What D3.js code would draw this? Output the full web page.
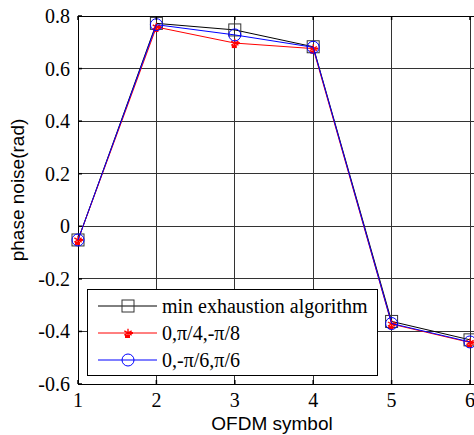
<!DOCTYPE html>
<html>
<head>
<meta charset="utf-8">
<script src="https://cdn.jsdelivr.net/npm/d3@7"></script>
<style>
  body { margin: 0; background: #fff; }
  svg { display: block; }
</style>
</head>
<body>
<div id="chart"></div>
<script>
// data
const symbols = [1, 2, 3, 4, 5, 6];
const minExhaustion = [-0.052, 0.772, 0.747, 0.683, -0.362, -0.432];
const setA = [-0.052, 0.758, 0.697, 0.676, -0.372, -0.442];   // 0,pi/4,-pi/8
const setB = [-0.052, 0.767, 0.728, 0.681, -0.370, -0.440];   // 0,-pi/6,pi/6
const yTicks = [-0.6, -0.4, -0.2, 0, 0.2, 0.4, 0.6, 0.8];
const legendLabels = ['min exhaustion algorithm', '0,\u03c0/4,-\u03c0/8', '0,-\u03c0/6,\u03c0/6'];

const WIDTH = 474, HEIGHT = 435;
const X0 = 78, X6 = 470, YTOP = 16, YBOT = 384;

const svg = d3.select('#chart').append('svg')
  .attr('width', WIDTH).attr('height', HEIGHT);

const x = d3.scaleLinear().domain([1, 6]).range([X0, X6]);
const y = d3.scaleLinear().domain([-0.6, 0.8]).range([YBOT, YTOP]);

const serif = '"Liberation Serif", "Times New Roman", serif';
const sans = '"Liberation Sans", Arial, sans-serif';

// grid
const grid = svg.append('g');
grid.selectAll('.vg').data(symbols.slice(1)).join('line')
  .attr('x1', d => x(d)).attr('x2', d => x(d))
  .attr('y1', YTOP).attr('y2', YBOT)
  .attr('stroke', '#333').attr('stroke-width', 1).attr('shape-rendering', 'crispEdges');
grid.selectAll('.hg').data(yTicks.slice(1, -1)).join('line')
  .attr('x1', X0).attr('x2', WIDTH)
  .attr('y1', d => y(d)).attr('y2', d => y(d))
  .attr('stroke', '#333').attr('stroke-width', 1).attr('shape-rendering', 'crispEdges');

// axis frame
svg.append('line').attr('x1', X0).attr('x2', X0).attr('y1', YTOP).attr('y2', YBOT)
  .attr('stroke', '#000').attr('shape-rendering', 'crispEdges');
svg.append('line').attr('x1', X0).attr('x2', WIDTH).attr('y1', YBOT).attr('y2', YBOT)
  .attr('stroke', '#000').attr('shape-rendering', 'crispEdges');
svg.append('line').attr('x1', X0).attr('x2', WIDTH).attr('y1', YTOP).attr('y2', YTOP)
  .attr('stroke', '#000').attr('shape-rendering', 'crispEdges');

// series
const series = [
  {values: minExhaustion, color: '#000', marker: 'square'},
  {values: setA, color: '#f00', marker: 'star'},
  {values: setB, color: '#00f', marker: 'circle'}
];

const line = d3.line().x((d, i) => x(symbols[i])).y(d => y(d));

function drawMarker(g, type, color) {
  if (type === 'square') {
    g.append('rect').attr('x', -6).attr('y', -6).attr('width', 12).attr('height', 12)
      .attr('fill', 'none').attr('stroke', '#333').attr('stroke-width', 1);
  } else if (type === 'circle') {
    g.append('circle').attr('r', 6).attr('fill', 'none').attr('stroke', color).attr('stroke-width', 1);
  } else {
    g.append('path').attr('d', d3.symbol(d3.symbolAsterisk, 50)())
      .attr('fill', 'none').attr('stroke', color).attr('stroke-width', 1.3);
    g.append('rect').attr('x', -3).attr('y', 2).attr('width', 5).attr('height', 3).attr('fill', color);
    g.append('rect').attr('x', 1).attr('y', -1).attr('width', 4).attr('height', 2).attr('fill', color);
  }
}

series.forEach(s => {
  svg.append('path').datum(s.values).attr('d', line)
    .attr('fill', 'none').attr('stroke', s.color).attr('stroke-width', 1);
  s.values.forEach((v, i) => {
    const g = svg.append('g').attr('transform', `translate(${x(symbols[i])},${y(v)})`);
    drawMarker(g, s.marker, s.color);
  });
});

// legend
const lg = svg.append('g');
lg.append('rect').attr('x', 87.5).attr('y', 289.5).attr('width', 290).attr('height', 86)
  .attr('fill', '#fff').attr('stroke', '#000').attr('stroke-width', 1);
const rowY = [306, 333, 360];
series.forEach((s, i) => {
  lg.append('line').attr('x1', 98).attr('x2', 157).attr('y1', rowY[i]).attr('y2', rowY[i])
    .attr('stroke', s.color).attr('stroke-width', 1);
  drawMarker(lg.append('g').attr('transform', `translate(128,${rowY[i]})`), s.marker, s.color);
  lg.append('text').attr('x', 162).attr('y', rowY[i]).attr('dy', '0.35em')
    .attr('font-family', serif).attr('font-size', 20).text(legendLabels[i]);
});

// ticks (inward)
const tk = svg.append('g').attr('stroke', '#000').attr('stroke-width', 1.5);
tk.selectAll('.yt').data(yTicks).join('line')
  .attr('x1', X0).attr('x2', X0 + 4).attr('y1', d => y(d)).attr('y2', d => y(d));
tk.selectAll('.xt').data(symbols).join('line')
  .attr('x1', d => x(d)).attr('x2', d => x(d)).attr('y1', YBOT).attr('y2', YBOT - 4);
tk.selectAll('.xtt').data(symbols).join('line')
  .attr('x1', d => x(d)).attr('x2', d => x(d)).attr('y1', YTOP).attr('y2', YTOP + 4);

// tick labels
svg.selectAll('.yl').data(yTicks).join('text')
  .attr('x', 70).attr('y', d => y(d)).attr('dy', '0.35em')
  .attr('text-anchor', 'end').attr('font-family', serif).attr('font-size', 20)
  .text(d => d3.format('.1f')(d).replace('0.0', '0').replace('−', '-'));
svg.selectAll('.xl').data(symbols).join('text')
  .attr('x', d => x(d)).attr('y', 407)
  .attr('text-anchor', 'middle').attr('font-family', serif).attr('font-size', 20)
  .text(d => d);

// axis titles
svg.append('text').attr('x', 272).attr('y', 430).attr('text-anchor', 'middle')
  .attr('font-family', sans).attr('font-size', 19).text('OFDM symbol');
svg.append('text').attr('transform', 'translate(24,190) rotate(-90)').attr('text-anchor', 'middle')
  .attr('font-family', sans).attr('font-size', 19).text('phase noise(rad)');
</script>
</body>
</html>
